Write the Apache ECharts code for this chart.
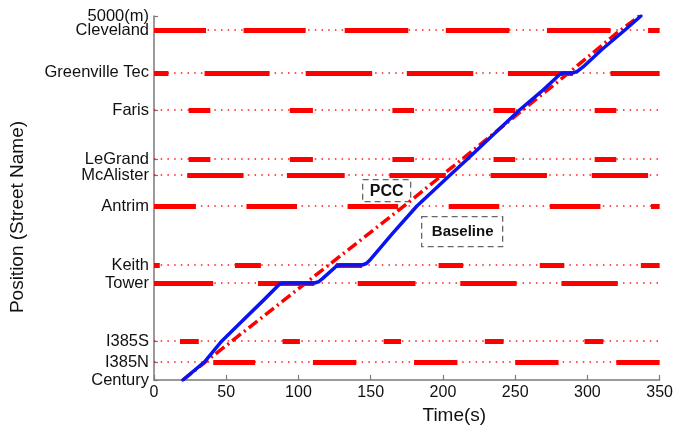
<!DOCTYPE html>
<html>
<head>
<meta charset="utf-8">
<script src="https://cdn.jsdelivr.net/npm/echarts@6/dist/echarts.min.js"></script>
<style>
  html, body { margin: 0; padding: 0; background: #ffffff; }
  #chart { width: 676px; height: 435px; }
</style>
</head>
<body>
<div id="chart"></div>
<script>
// Intersections along the corridor and their positions (m)
const streetNames = ['Century', 'I385N', 'I385S', 'Tower', 'Keith', 'Antrim', 'McAlister', 'LeGrand', 'Faris', 'Greenville Tec', 'Cleveland'];
const streetPositions = [0, 247, 536, 1332, 1580, 2390, 2816, 3036, 3709, 4218, 4808];
const corridorEnd = 5000;
const timeMin = 0;
const timeMax = 350;
const timeStep = 50;

// Red intervals [start, end] in seconds for each intersection
const redCentury = [];
const redI385N = [[41, 70], [110, 140], [180, 210], [250, 280], [320, 350]];
const redI385S = [[18, 31], [89, 101], [159, 171], [229, 242], [298, 311]];
const redTower = [[0, 41], [72, 111], [141, 181], [212, 251], [282, 321]];
const redKeith = [[0, 4], [56, 74], [126, 144], [197, 214], [267, 284], [337, 350]];
const redAntrim = [[0, 29], [64, 99], [134, 169], [204, 239], [274, 309], [344, 350]];
const redMcAlister = [[23, 62], [92, 132], [163, 202], [233, 272], [303, 342]];
const redLeGrand = [[24, 39], [94, 110], [165, 180], [235, 250], [305, 320]];
const redFaris = [[24, 39], [94, 110], [165, 180], [235, 250], [305, 320]];
const redGreenville = [[0, 10], [35, 80], [105, 151], [175, 221], [245, 290], [316, 350]];
const redCleveland = [[0, 36], [62, 105], [132, 176], [202, 246], [272, 316], [342, 350]];
const redPhases = [redCentury, redI385N, redI385S, redTower, redKeith, redAntrim, redMcAlister, redLeGrand, redFaris, redGreenville, redCleveland];

// Vehicle trajectories: [time (s), position (m)]
const baselineTrajectory = [
  [20, 0], [35, 250], [47, 536], [60, 790], [75, 1080], [87, 1320], [89.5, 1332],
  [111, 1332], [114, 1350], [117, 1400], [126, 1560], [129, 1580], [144, 1580],
  [147, 1600], [150, 1660], [165, 2010], [182, 2390], [205, 2816], [217, 3036],
  [253, 3709], [268, 3960], [281, 4200], [283.5, 4218], [290, 4218], [293, 4240],
  [297, 4300], [310, 4540], [326, 4808], [337, 5000]
];
const pccTrajectory = [
  [20, 0], [35, 240], [105, 1332], [121, 1580], [175, 2420], [287, 4218], [320, 4760], [336, 5000]
];

const RED = '#ff0000';
const labelFor = {};
streetNames.forEach((n, i) => { labelFor[streetPositions[i]] = n; });

// Green time shown as a dotted line across each intersection row, red time as a thick bar
const dottedRows = [];
const redBars = [];
streetNames.forEach((n, i) => {
  if (redPhases[i].length === 0) return;
  dottedRows.push({ coords: [[timeMin, streetPositions[i]], [timeMax, streetPositions[i]]] });
  redPhases[i].forEach(p => {
    redBars.push({ coords: [[p[0], streetPositions[i]], [p[1], streetPositions[i]]] });
  });
});

const axisGray = '#7a7a7a';
const labelFont = { fontSize: 16.5, color: '#111' };

const chart = echarts.init(document.getElementById('chart'), null, { renderer: 'canvas' });
chart.setOption({
  animation: false,
  backgroundColor: '#ffffff',
  textStyle: { fontFamily: 'Liberation Sans, Arial, sans-serif' },
  grid: { left: 151, right: 16, top: 16, bottom: 55, containLabel: false },
  xAxis: {
    type: 'value',
    min: timeMin, max: timeMax, interval: timeStep,
    name: 'Time(s)',
    nameLocation: 'middle',
    nameGap: 17,
    nameTextStyle: { fontSize: 19, color: '#111', padding: [0, 0, 0, 95] },
    axisLine: { lineStyle: { color: axisGray, width: 1.5 } },
    axisTick: { inside: true, length: 5, lineStyle: { color: axisGray, width: 1.2 } },
    axisLabel: Object.assign({ margin: 5 }, labelFont, { fontSize: 16 }),
    splitLine: { show: false }
  },
  yAxis: [
    {
      // street names at each intersection
      type: 'value',
      min: 0, max: corridorEnd,
      position: 'left',
      name: 'Position (Street Name)',
      nameLocation: 'middle',
      nameGap: 127,
      nameRotate: 90,
      nameTextStyle: { fontSize: 19, color: '#111', padding: [0, 38, 0, 0] },
      axisLine: { show: true, lineStyle: { color: axisGray, width: 1.5 } },
      axisTick: { show: true, inside: true, length: 4, customValues: streetPositions, lineStyle: { color: axisGray, width: 1.2 } },
      axisLabel: Object.assign({
        margin: 5,
        customValues: streetPositions,
        formatter: v => labelFor[v] || ''
      }, labelFont),
      splitLine: { show: false }
    },
    {
      // corridor length marker at the top of the axis
      type: 'value',
      min: 0, max: corridorEnd,
      position: 'left',
      axisLine: { show: false },
      axisTick: { show: true, inside: true, length: 4, customValues: [corridorEnd], lineStyle: { color: axisGray, width: 1.2 } },
      axisLabel: Object.assign({
        margin: 5,
        customValues: [corridorEnd],
        formatter: v => v + '(m)'
      }, labelFont),
      splitLine: { show: false }
    }
  ],
  series: [
    {
      name: 'green', type: 'lines', coordinateSystem: 'cartesian2d', z: 1,
      lineStyle: { color: RED, width: 1.5, type: [1.5, 5.2], opacity: 0.9 },
      data: dottedRows, silent: true
    },
    {
      name: 'red', type: 'lines', coordinateSystem: 'cartesian2d', z: 2,
      lineStyle: { color: RED, width: 5, type: 'solid', cap: 'butt', opacity: 1 },
      data: redBars, silent: true
    },
    {
      name: 'PCC', type: 'line', z: 3, showSymbol: false,
      lineStyle: { color: RED, width: 3.5, type: [11, 4, 2, 4] },
      data: pccTrajectory
    },
    {
      name: 'Baseline', type: 'line', z: 4, showSymbol: false,
      lineStyle: { color: '#0a14f0', width: 3.5, join: 'round', cap: 'round' },
      data: baselineTrajectory
    }
  ],
  graphic: [
    {
      type: 'group', left: 362, top: 179,
      children: [
        { type: 'rect', shape: { x: 0, y: 0, width: 48, height: 22 },
          style: { fill: '#ffffff', stroke: '#666', lineWidth: 1.3, lineDash: [6, 4] } },
        { type: 'text', x: 24, y: 12,
          style: { text: 'PCC', fill: '#111', font: 'bold 16px Liberation Sans, Arial, sans-serif', align: 'center', verticalAlign: 'middle' } }
      ]
    },
    {
      type: 'group', left: 421, top: 216,
      children: [
        { type: 'rect', shape: { x: 0, y: 0, width: 81, height: 30 },
          style: { fill: '#ffffff', stroke: '#666', lineWidth: 1.3, lineDash: [6, 4] } },
        { type: 'text', x: 41, y: 15,
          style: { text: 'Baseline', fill: '#111', font: 'bold 15px Liberation Sans, Arial, sans-serif', align: 'center', verticalAlign: 'middle' } }
      ]
    }
  ]
});
</script>
</body>
</html>
